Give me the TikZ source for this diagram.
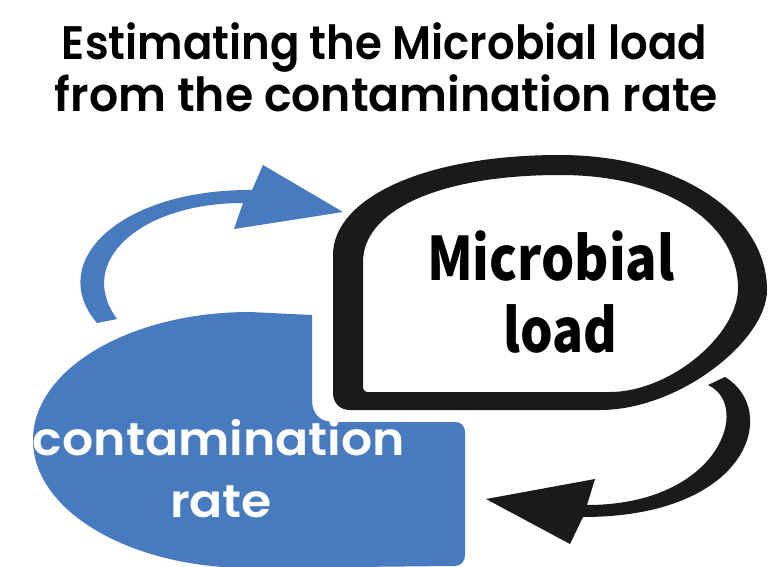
\documentclass[tikz,border=0pt]{standalone}
\usepackage{fontspec}
\newfontfamily\titlefont{Poppins SemiBold}
\newfontfamily\mlfont{Noto Sans CJK JP}
\definecolor{cblue}{RGB}{72,122,191}
\definecolor{cblack}{RGB}{26,26,26}
\newcommand{\fitw}[2]{\resizebox{#1pt}{\height}{#2}}
\begin{document}
\begin{tikzpicture}[x=1pt,y=-1pt,
  txt/.style={inner sep=0pt,anchor=base}]
\useasboundingbox (0,0) rectangle (768,567);
% blue shape
\fill[cblue] (312,315) -- (312,400) .. controls (312,414) and (320,422) .. (334,422)
  -- (455,422) .. controls (461,422) and (465,426) .. (465,432)
  -- (465,555) .. controls (465,561) and (461,566) .. (455,566)
  -- (250,568) .. controls (130,568) and (33,511) .. (33,440)
  .. controls (33,369) and (130,312) .. (250,312) -- cycle;
% black box
\fill[cblack,even odd rule]
  (333,393) -- (333,255) .. controls (333,200) and (420,155) .. (560,155)
  .. controls (680,155) and (767,215) .. (767,290)
  .. controls (767,340) and (680,410) .. (600,410)
  -- (350,410) .. controls (340,410) and (333,403) .. (333,393) -- cycle
  (363,388) -- (363,262) .. controls (363,210) and (440,175) .. (560,175)
  .. controls (670,175) and (738,225) .. (738,288)
  .. controls (738,335) and (670,392) .. (610,392)
  -- (367,392) .. controls (365,392) and (363,390) .. (363,388) -- cycle;
% blue arrow
\fill[cblue] (97,323) .. controls (45,262) and (120,189) .. (252,190)
  -- (263,165) -- (343,212) -- (234,229) -- (243,203)
  .. controls (140,203) and (75,262) .. (117,319) -- cycle;
% black arrow
\fill[cblack] (725,377) .. controls (780,410) and (750,517) .. (583,517)
  -- (570,544) -- (486,499) -- (595,479) -- (587,505)
  .. controls (720,505) and (752,405) .. (708,385) -- cycle;
% texts
\node[txt] (t1) at (384.5,60) {\titlefont\fontsize{47}{47}\selectfont\fitw{645}{Estimating the Microbial load}};
\node[txt] (t2) at (386.5,112) {\titlefont\fontsize{47}{47}\selectfont\fitw{663}{from the contamination rate}};
\node[txt] (m1) at (551,280) {\mlfont\bfseries\fontsize{60}{60}\selectfont\fitw{248}{Microbial}};
\node[txt] (m2) at (560,352) {\mlfont\bfseries\fontsize{60}{60}\selectfont\fitw{114}{load}};
\node[txt,text=white] (c1) at (219,455) {\titlefont\fontsize{46}{46}\selectfont\fitw{372}{contamination}};
\node[txt,text=white] (c2) at (221,517) {\titlefont\fontsize{46}{46}\selectfont\fitw{102}{rate}};
\end{tikzpicture}
\end{document}
